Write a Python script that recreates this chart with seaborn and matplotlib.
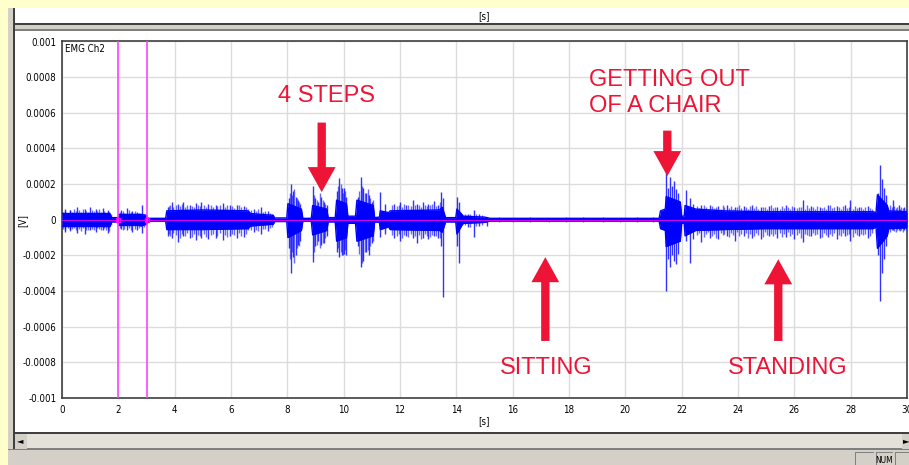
import matplotlib
matplotlib.use("Agg")
import matplotlib.pyplot as plt
from matplotlib.patches import Rectangle
import pandas as pd
import seaborn as sns

W, H = 909, 465
SCALE = 1e-4  # trace values below are in units of 1e-4 V

# dense core of the EMG trace: time [s], upper / lower edge
env_t = [0.0, 1.70, 1.76, 2.00, 2.02, 2.75, 2.80, 3.00, 3.05, 3.68, 3.72, 5.00,
         6.60, 6.70, 7.50, 7.55, 7.98, 8.02, 8.50, 8.55, 8.85, 8.90, 9.40, 9.45,
         9.70, 9.75, 10.10, 10.15, 10.42, 10.47, 11.05, 11.10, 11.27, 11.30, 11.60,
         11.65, 13.40, 13.50, 13.62, 13.98, 14.02, 14.20, 14.25, 15.00, 15.20,
         21.20, 21.25, 21.42, 21.45, 21.95, 22.00, 22.09, 22.12, 22.50, 23.50,
         25.00, 28.80, 28.90, 28.95, 29.30, 29.35, 30.00]
env_hi = [0.35, 0.35, 0.12, 0.12, 0.30, 0.30, 0.30, 0.25, 0.08, 0.08, 0.50, 0.55,
          0.50, 0.35, 0.25, 0.10, 0.10, 0.90, 0.60, 0.08, 0.08, 0.80, 0.60, 0.12,
          0.12, 1.10, 0.90, 0.20, 0.20, 1.10, 0.80, 0.12, 0.15, 0.50, 0.40,
          0.50, 0.55, 0.70, 0.12, 0.12, 0.60, 0.30, 0.20, 0.15, 0.08,
          0.08, 0.50, 0.60, 1.30, 1.00, 0.20, 0.20, 0.80, 0.60, 0.50,
          0.45, 0.45, 0.40, 1.40, 0.80, 0.50, 0.45]
env_lo = [-0.38, -0.38, -0.12, -0.12, -0.32, -0.32, -0.35, -0.25, -0.08, -0.08, -0.55, -0.55,
          -0.50, -0.35, -0.25, -0.10, -0.10, -1.00, -0.60, -0.08, -0.08, -0.85, -0.60, -0.12,
          -0.12, -1.20, -1.00, -0.20, -0.20, -1.20, -0.90, -0.12, -0.15, -0.55, -0.40,
          -0.55, -0.60, -0.70, -0.12, -0.12, -0.80, -0.30, -0.20, -0.15, -0.07,
          -0.07, -0.50, -0.60, -1.50, -1.20, -0.20, -0.20, -0.90, -0.60, -0.55,
          -0.50, -0.50, -0.40, -1.60, -0.90, -0.50, -0.45]

# large excursions: time [s], top, bottom
spike_t = [0.10, 0.30, 0.55, 0.80, 1.00, 1.20, 1.45, 1.65,
           2.10, 2.30, 2.50, 2.65, 2.83,
           3.75, 3.90, 4.13, 4.30, 4.55, 4.75, 4.95,
           5.20, 5.45, 5.70, 5.95, 6.20, 6.45, 6.80, 7.05, 7.30,
           8.05, 8.12, 8.20, 8.30, 8.38, 8.45,
           8.90, 9.00, 9.10, 9.20, 9.30, 9.40,
           9.78, 9.85, 9.93, 10.00, 10.08,
           10.50, 10.61, 10.70, 10.80, 10.90, 11.00, 11.30, 11.45,
           11.80, 12.00, 12.20, 12.45, 12.60, 12.80, 13.00, 13.20, 13.35,
           13.46, 13.51, 14.04, 14.08, 14.40, 14.62, 14.80, 15.08,
           21.44, 21.50, 21.58, 21.65, 21.72, 21.80, 21.88,
           22.15, 22.28, 22.40,
           22.70, 23.00, 23.30, 23.60, 23.90, 24.20, 24.50, 24.80, 25.10, 25.40,
           25.70, 26.00, 26.30, 26.60, 26.90, 27.20, 27.50, 27.80, 27.99, 28.30, 28.60,
           28.98, 29.04, 29.10, 29.18, 29.25, 29.50, 29.70, 29.90]
spike_hi = [0.60, 0.55, 0.70, 0.60, 0.73, 0.60, 0.65, 0.50,
            0.55, 0.64, 0.50, 0.45, 0.82,
            0.70, 1.00, 0.90, 1.00, 0.85, 0.95, 1.00,
            0.90, 0.80, 0.92, 0.85, 0.80, 0.75, 0.60, 0.70, 0.50,
            1.20, 1.98, 1.60, 1.30, 1.10, 0.90,
            1.90, 1.20, 1.00, 1.25, 1.00, 0.80,
            1.60, 2.36, 1.80, 1.76, 1.30,
            1.30, 2.42, 1.80, 1.50, 1.40, 1.00, 1.54, 0.90,
            0.90, 1.00, 0.80, 1.10, 0.90, 1.00, 0.90, 1.05, 0.80,
            1.57, 1.20, 1.25, 1.00, 0.35, 0.54, 0.30, 0.10,
            2.75, 1.80, 2.42, 1.90, 2.20, 1.70, 1.50,
            1.67, 1.20, 0.90,
            0.80, 0.85, 0.75, 0.80, 0.70, 0.75, 0.80, 0.70, 0.75, 0.70,
            0.80, 0.70, 1.10, 0.75, 0.70, 0.80, 0.75, 0.80, 1.10, 0.70, 0.75,
            1.50, 3.07, 2.30, 1.80, 1.40, 1.10, 0.80, 0.70]
spike_lo = [-0.70, -0.60, -0.75, -0.80, -0.60, -0.70, -0.55, -0.75,
            -0.50, -0.60, -0.67, -0.55, -0.77,
            -0.90, -1.00, -1.24, -0.90, -1.00, -1.15, -1.00,
            -1.10, -1.00, -1.14, -0.90, -1.00, -0.95, -0.70, -0.80, -0.65,
            -1.60, -3.00, -2.10, -2.00, -1.40, -1.20,
            -2.36, -1.50, -1.20, -1.40, -1.30, -0.90,
            -1.80, -2.08, -2.00, -1.90, -2.00,
            -1.50, -2.64, -2.30, -1.80, -2.00, -1.30, -0.95, -0.80,
            -1.00, -1.20, -0.90, -1.00, -1.33, -1.00, -1.10, -0.90, -1.00,
            -1.50, -4.33, -1.50, -2.40, -0.40, -0.95, -0.35, -0.36,
            -4.00, -2.20, -2.64, -2.00, -2.30, -2.50, -1.90,
            -1.20, -2.45, -1.10,
            -1.24, -1.00, -1.10, -0.90, -1.20, -0.90, -1.00, -1.10, -0.90, -1.00,
            -0.95, -1.10, -1.24, -0.90, -1.00, -0.95, -1.10, -0.90, -1.20, -0.90, -1.00,
            -2.00, -4.55, -3.00, -2.20, -1.50, -0.60, -0.55, -0.58]

# smaller hair-like excursions around the core: time [s], top, bottom
hair_t = [0.05, 0.12, 0.20, 0.27, 0.35, 0.42, 0.50, 0.60, 0.67, 0.75, 0.85, 0.92,
          1.05, 1.12, 1.25, 1.32, 1.40, 1.50, 1.57, 1.62, 1.68, 1.73,
          2.05, 2.15, 2.20, 2.38, 2.45, 2.58, 2.72, 2.90,
          3.80, 3.85, 3.95, 4.05, 4.20, 4.25, 4.38, 4.45, 4.62, 4.68,
          4.82, 4.90, 5.05, 5.12, 5.28, 5.35, 5.50, 5.60, 5.78, 5.85,
          6.02, 6.10, 6.28, 6.35, 6.52, 6.60, 6.72, 6.88, 6.95, 7.12,
          7.20, 7.38, 7.45,
          8.08, 8.15, 8.25, 8.35, 8.42, 8.95, 9.05, 9.15, 9.25, 9.35,
          9.80, 9.90, 9.97, 10.05, 10.55, 10.65, 10.75, 10.85, 10.95, 11.03,
          11.70, 11.88, 11.95, 12.08, 12.15, 12.30, 12.38, 12.52,
          12.68, 12.75, 12.88, 12.95, 13.08, 13.15, 13.28, 13.42,
          14.30, 14.50, 14.70, 14.90,
          15.50, 16.00, 16.60, 17.30, 17.90, 18.50, 19.20, 19.80, 20.40, 21.00,
          22.55, 22.62, 22.78, 22.85, 22.92, 23.08, 23.15, 23.22, 23.38, 23.45,
          23.52, 23.68, 23.75, 23.82, 23.98, 24.05, 24.12, 24.28, 24.35, 24.42,
          24.58, 24.65, 24.72, 24.88, 24.95, 25.02, 25.18, 25.25, 25.32, 25.48,
          25.55, 25.62, 25.78, 25.85, 25.92, 26.08, 26.15, 26.22, 26.38, 26.45,
          26.52, 26.68, 26.75, 26.82, 26.98, 27.05, 27.12, 27.28, 27.35, 27.42,
          27.58, 27.65, 27.72, 27.88, 27.95, 28.08, 28.15, 28.22, 28.38, 28.45,
          28.52, 28.68, 28.75,
          29.40, 29.45, 29.55, 29.60, 29.65, 29.75, 29.80, 29.85, 29.95]
hair_hi = [0.45, 0.50, 0.40, 0.55, 0.42, 0.60, 0.48, 0.52, 0.44, 0.58, 0.50, 0.45,
           0.55, 0.47, 0.50, 0.62, 0.45, 0.50, 0.40, 0.55, 0.45, 0.30,
           0.45, 0.50, 0.40, 0.55, 0.42, 0.50, 0.40, 0.35,
           0.75, 0.85, 0.70, 0.80, 0.75, 0.90, 0.72, 0.80, 0.78, 0.70,
           0.85, 0.75, 0.80, 0.72, 0.85, 0.70, 0.78, 0.82, 0.70, 0.80,
           0.75, 0.68, 0.80, 0.70, 0.72, 0.60, 0.55, 0.50, 0.60, 0.45,
           0.50, 0.40, 0.35,
           1.50, 1.40, 1.70, 1.20, 1.00, 1.40, 1.10, 1.50, 1.10, 0.90,
           1.90, 2.00, 1.50, 1.60, 1.60, 1.90, 1.50, 1.70, 1.20, 1.10,
           0.80, 0.75, 0.85, 0.70, 0.90, 0.80, 0.75, 0.85,
           0.80, 0.70, 0.85, 0.75, 0.80, 0.90, 0.75, 1.00,
           0.30, 0.35, 0.30, 0.25,
           0.15, 0.12, 0.14, 0.12, 0.15, 0.13, 0.14, 0.12, 0.15, 0.13,
           0.75, 0.65, 0.80, 0.70, 0.62, 0.78, 0.68, 0.72, 0.60, 0.80,
           0.70, 0.65, 0.75, 0.62, 0.70, 0.80, 0.66, 0.72, 0.60, 0.75,
           0.68, 0.78, 0.62, 0.70, 0.74, 0.60, 0.80, 0.66, 0.70, 0.62,
           0.76, 0.68, 0.72, 0.60, 0.78, 0.65, 0.70, 0.74, 0.62, 0.80,
           0.66, 0.70, 0.62, 0.76, 0.68, 0.72, 0.60, 0.80, 0.65, 0.70,
           0.74, 0.62, 0.78, 0.66, 0.70, 0.60, 0.76, 0.68, 0.72, 0.62,
           0.70, 0.65, 0.60,
           0.80, 0.70, 0.75, 0.65, 0.70, 0.60, 0.72, 0.65, 0.60]
hair_lo = [-0.50, -0.55, -0.48, -0.62, -0.50, -0.45, -0.60, -0.52, -0.65, -0.48, -0.55, -0.60,
           -0.50, -0.58, -0.45, -0.52, -0.60, -0.48, -0.55, -0.50, -0.62, -0.30,
           -0.45, -0.55, -0.50, -0.45, -0.60, -0.50, -0.45, -0.40,
           -0.80, -0.90, -0.75, -0.85, -1.00, -0.80, -0.90, -0.75, -0.95, -0.80,
           -0.85, -0.90, -0.80, -0.95, -0.85, -0.80, -0.90, -0.75, -0.85, -0.95,
           -0.80, -0.85, -0.75, -0.90, -0.80, -0.60, -0.60, -0.55, -0.65, -0.50,
           -0.50, -0.45, -0.40,
           -2.20, -1.80, -2.40, -1.60, -1.50, -1.80, -1.40, -1.60, -1.30, -1.00,
           -1.60, -1.80, -2.00, -1.70, -1.90, -2.40, -1.80, -1.70, -1.50, -1.20,
           -0.85, -0.90, -0.80, -1.00, -0.85, -0.95, -0.80, -0.90,
           -0.85, -1.10, -0.80, -0.90, -0.95, -0.85, -0.90, -1.00,
           -0.30, -0.40, -0.35, -0.30,
           -0.12, -0.15, -0.10, -0.14, -0.12, -0.10, -0.15, -0.12, -0.10, -0.14,
           -0.85, -0.75, -0.95, -0.80, -0.70, -0.90, -0.78, -1.00, -0.72, -0.88,
           -0.80, -0.95, -0.74, -0.86, -0.70, -0.92, -0.80, -0.76, -1.00, -0.82,
           -0.90, -0.74, -0.84, -0.96, -0.70, -0.88, -0.78, -0.92, -0.80, -0.75,
           -0.95, -0.82, -0.70, -0.90, -0.80, -0.86, -0.74, -1.00, -0.78, -0.84,
           -0.90, -0.72, -0.86, -0.80, -0.96, -0.74, -0.88, -0.80, -0.92, -0.76,
           -0.84, -0.90, -0.72, -0.86, -0.80, -0.95, -0.76, -0.88, -0.80, -0.84,
           -0.78, -0.90, -0.75,
           -0.70, -0.60, -0.65, -0.70, -0.55, -0.65, -0.60, -0.70, -0.55]

cursor_t = [2, 3]
x_ticks = list(range(0, 31, 2))
y_ticks = [-0.001, -0.0008, -0.0006, -0.0004, -0.0002, 0, 0.0002, 0.0004, 0.0006, 0.0008, 0.001]
y_tick_labels = ["-0.001", "-0.0008", "-0.0006", "-0.0004", "-0.0002", "0",
                 "0.0002", "0.0004", "0.0006", "0.0008", "0.001"]

RED = "#EE1436"
BLUE = "#0000FF"
MAGENTA = "#FF44FF"
GREY = "#D4D0C8"
DARK = "#404040"

sns.set_style("white")
plt.rcParams["font.family"] = ["DejaVu Sans"]

fig = plt.figure(figsize=(W / 100, H / 100), dpi=100, facecolor="#FFFFCC")


def px_box(x0, y0, x1, y1, face, z=0):
    fig.add_artist(Rectangle((x0 / W, 1 - y1 / H), (x1 - x0) / W, (y1 - y0) / H,
                             transform=fig.transFigure, facecolor=face,
                             edgecolor="none", zorder=z))


def px_text(x, y, s, **kw):
    fig.text(x / W, 1 - y / H, s, **kw)


# window chrome
px_box(8, 8, 909, 465, GREY)
px_box(13, 8, 15, 450, DARK)
px_box(15, 8, 909, 24, "white")
px_box(15, 23, 909, 25, DARK)
px_box(15, 29, 909, 31, "#808080")
px_box(15, 31, 909, 432, "white")
px_box(15, 432, 909, 434, DARK)
px_box(27, 434, 902, 449, "#E4E1DA")
px_box(27, 448, 902, 449, "#808080")
px_box(8, 449, 909, 450, "#808080")
for bx0, bx1 in [(855, 874), (876, 893), (895, 909)]:
    px_box(bx0, 452, bx1, 465, "#808080")
    px_box(bx0 + 1, 453, bx1, 465, GREY)
small = dict(fontsize=7, fontstretch="condensed", color="black")
px_text(884, 460, "NUM", ha="center", va="center", **dict(small, fontsize=6))
px_text(20, 441, "\u25c4", fontsize=6, ha="center", va="center", color="black")
px_text(906, 441, "\u25ba", fontsize=6, ha="center", va="center", color="black")
px_text(484, 16, "[s]", ha="center", va="center", **small)
px_text(484, 421, "[s]", ha="center", va="center", **small)
px_text(22, 220, "[V]", ha="center", va="center", rotation=90, **small)

ax = fig.add_axes([62 / W, 1 - 398 / H, (907 - 62) / W, (398 - 41.5) / H])
ax.set_facecolor("white")

env = pd.DataFrame({"t": env_t,
                    "hi": [v * SCALE for v in env_hi],
                    "lo": [v * SCALE for v in env_lo]})
spikes = pd.DataFrame({"t": spike_t,
                       "hi": [v * SCALE for v in spike_hi],
                       "lo": [v * SCALE for v in spike_lo]})
hair = pd.DataFrame({"t": hair_t,
                     "hi": [v * SCALE for v in hair_hi],
                     "lo": [v * SCALE for v in hair_lo]})

ax.vlines(hair["t"], hair["lo"], hair["hi"], color="#2A2AFF", linewidth=1.0,
          alpha=0.7, zorder=3)
ax.vlines(spikes["t"], spikes["lo"], spikes["hi"], color=BLUE, linewidth=1.0,
          alpha=0.8, zorder=3)
ax.fill_between(env["t"], env["lo"], env["hi"], color=BLUE, linewidth=0, zorder=3)
sns.lineplot(data=env, x="t", y="hi", ax=ax, color=BLUE, linewidth=1.0, zorder=3)
sns.lineplot(data=env, x="t", y="lo", ax=ax, color=BLUE, linewidth=1.0, zorder=3)
ax.axhline(0, color="#FF00FF", linewidth=0.6, zorder=4)
for c in cursor_t:
    ax.axvline(c, color=MAGENTA, linewidth=1.2, zorder=4)
    ax.plot([c], [0], marker="s", markersize=3, markerfacecolor="none",
            markeredgecolor="#FF00FF", zorder=5)

ax.set_xlim(0, 30)
ax.set_ylim(-0.001, 0.001)
ax.set_xticks(x_ticks)
ax.set_yticks(y_ticks)
ax.set_yticklabels(y_tick_labels)
ax.grid(True, color="#DCDCDC", linewidth=1.0, zorder=0)
ax.set_axisbelow(True)
ax.tick_params(axis="both", length=0, labelsize=7, colors="black")
ax.tick_params(axis="x", pad=5)
ax.tick_params(axis="y", pad=4)
for lbl in ax.get_xticklabels() + ax.get_yticklabels():
    lbl.set_fontstretch("condensed")
ax.set_xlabel("")
ax.set_ylabel("")
for side in ["left", "bottom", "top", "right"]:
    ax.spines[side].set_visible(True)
    ax.spines[side].set_color(DARK)
    ax.spines[side].set_linewidth(1.2)
ax.text(0.003, 0.993, "EMG Ch2", transform=ax.transAxes, ha="left", va="top", **small)

# annotations
lab = dict(color=RED, fontsize=17, family=["Liberation Sans", "DejaVu Sans"])
arrow = dict(facecolor=RED, edgecolor="none", width=6, headwidth=20, headlength=18)
ax.text(9.4, 0.000695, "4 STEPS", ha="center", va="center", **lab)
ax.annotate("", xy=(9.22, 0.000155), xytext=(9.22, 0.000545), arrowprops=arrow)
ax.text(18.72, 0.00071, "GETTING OUT\nOF A CHAIR", ha="left", va="center",
        linespacing=1.25, **lab)
ax.annotate("", xy=(21.49, 0.000245), xytext=(21.49, 0.0005), arrowprops=arrow)
ax.text(17.2, -0.000829, "SITTING", ha="center", va="center", **lab)
ax.annotate("", xy=(17.16, -0.00021), xytext=(17.16, -0.00068), arrowprops=arrow)
ax.text(25.78, -0.000829, "STANDING", ha="center", va="center", **lab)
ax.annotate("", xy=(25.43, -0.000222), xytext=(25.43, -0.00068), arrowprops=arrow)

fig.savefig("out.png", dpi=100, facecolor=fig.get_facecolor())
